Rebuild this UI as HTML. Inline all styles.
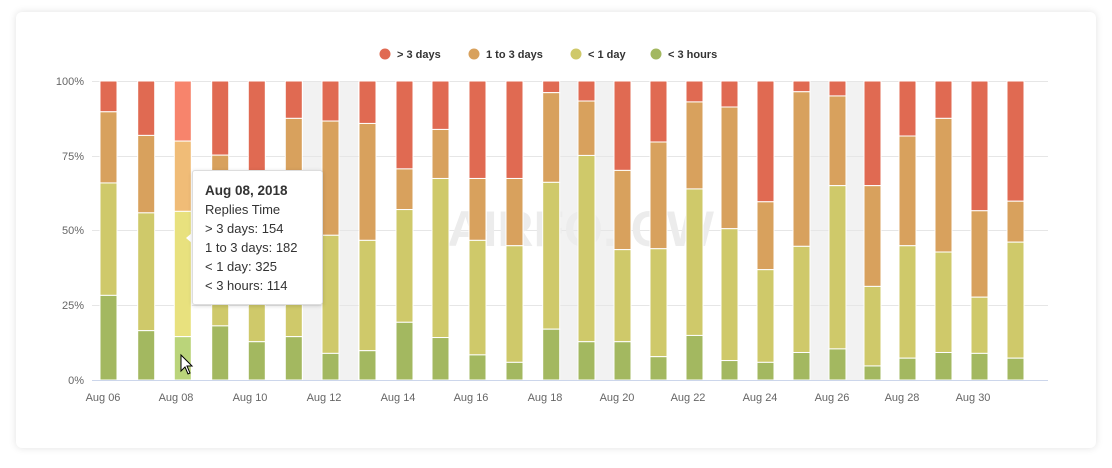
<!DOCTYPE html>
<html><head><meta charset="utf-8"><style>
html,body{margin:0;padding:0;background:#fff;width:1112px;height:468px;overflow:hidden;font-family:"Liberation Sans","DejaVu Sans",sans-serif;}
.card{position:absolute;left:16px;top:12px;width:1080px;height:436px;background:#fff;border-radius:6px;box-shadow:0 0 8px rgba(0,0,0,0.12);}
svg{position:absolute;left:0;top:0;}
.tip{position:absolute;left:192px;top:170px;width:131px;height:135px;background:#fff;border:1px solid #ddd;border-radius:3px;box-shadow:0 1px 4px rgba(0,0,0,0.15);font-size:13px;color:#333;box-sizing:border-box;padding:10px 0 0 12px;line-height:19px;}
.tip b{font-size:13.5px;}
.arrow{position:absolute;left:186px;top:232px;width:0;height:0;border-top:6px solid transparent;border-bottom:6px solid transparent;border-right:7px solid #fff;}
</style></head><body>
<div class="card"></div>
<svg width="1112" height="468" id="s" font-family="Liberation Sans, DejaVu Sans, sans-serif">
<g id="bands"></g>
<g stroke="#e6e6e6" stroke-width="1">
<line x1="92" y1="81.5" x2="1048" y2="81.5"/>
<line x1="92" y1="156.5" x2="1048" y2="156.5"/>
<line x1="92" y1="230.5" x2="1048" y2="230.5"/>
<line x1="92" y1="305.5" x2="1048" y2="305.5"/>
</g>
<text x="714" y="246" font-size="50" fill="#ececec" text-anchor="end" font-weight="bold">AIRFO.ICW</text>
<g id="bars"></g>
<line x1="92" y1="380.5" x2="1048" y2="380.5" stroke="#ccd6eb"/>
<g font-size="11" fill="#666" text-anchor="end">
<text x="84" y="85">100%</text><text x="84" y="160">75%</text><text x="84" y="234">50%</text><text x="84" y="309">25%</text><text x="84" y="384">0%</text>
</g>
<g font-size="11" fill="#666" text-anchor="middle">
<text x="103" y="401">Aug 06</text><text x="176" y="401">Aug 08</text><text x="250" y="401">Aug 10</text>
<text x="324" y="401">Aug 12</text><text x="398" y="401">Aug 14</text><text x="471" y="401">Aug 16</text>
<text x="545" y="401">Aug 18</text><text x="617" y="401">Aug 20</text><text x="688" y="401">Aug 22</text>
<text x="760" y="401">Aug 24</text><text x="832" y="401">Aug 26</text><text x="902" y="401">Aug 28</text>
<text x="973" y="401">Aug 30</text>
</g>
<g font-size="11" font-weight="bold" fill="#333">
<circle cx="385" cy="54" r="5.5" fill="#e06a52"/><text x="397" y="58">&gt; 3 days</text>
<circle cx="474" cy="54" r="5.5" fill="#d8a15d"/><text x="486" y="58">1 to 3 days</text>
<circle cx="576" cy="54" r="5.5" fill="#cfc96a"/><text x="588" y="58">&lt; 1 day</text>
<circle cx="656" cy="54" r="5.5" fill="#a3b860"/><text x="668" y="58">&lt; 3 hours</text>
</g>
<path d="M181 355 L181 371 L185 367 L188 374 L190 373 L187 366 L192 366 Z" fill="#fff" stroke="#000" stroke-width="1"/>
</svg>
<div class="arrow"></div>
<div class="tip"><b>Aug 08, 2018</b><br>Replies Time<br>&gt; 3 days: 154<br>1 to 3 days: 182<br>&lt; 1 day: 325<br>&lt; 3 hours: 114</div>
<script>
var L=[100,137.7,174.3,211.7,248.3,285.3,322,359,396,432,469,506,542.7,578,614,650,686,721,757,793,829,864,899,935,971,1007];
var D=[[89.7,65.9,28.3],[81.8,55.9,16.5],[79.9,56.4,14.5],[75.2,50,18.1],[68,40,12.8],[87.5,48.5,14.5],[86.6,48.4,8.9],[85.8,46.7,9.8],[70.6,57,19.3],[83.8,67.4,14.2],[67.4,46.7,8.4],[67.4,44.9,5.9],[96.1,66.1,17],[93.3,75.1,12.8],[70.1,43.6,12.8],[79.6,43.9,7.8],[93,63.9,14.9],[91.3,50.6,6.5],[59.6,36.9,5.9],[96.4,44.7,9.2],[95,65,10.4],[65,31.3,4.7],[81.6,44.9,7.3],[87.5,42.8,9.2],[56.6,27.7,8.9],[59.8,46.1,7.3]];
var ns="http://www.w3.org/2000/svg",bars=document.getElementById('bars'),bands=document.getElementById('bands');
function r(g,x,y,w,h,f,st){var e=document.createElementNS(ns,'rect');e.setAttribute('x',x);e.setAttribute('y',y);e.setAttribute('width',w);e.setAttribute('height',h);e.setAttribute('fill',f);if(st){e.setAttribute('stroke','#fff');e.setAttribute('stroke-width','1');}g.appendChild(e);}
[6,13,20].forEach(function(i){var c=L[i]+8.5;r(bands,c-27.5,81,55,299,'#f2f2f2');});
function Y(p){return 380-p*2.99;}
var C=['#e06a52','#d8a15d','#cfc96a','#a3b860'],H=['#f7846c','#f0bc77','#e8e17e','#bad47a'];
L.forEach(function(x,i){var d=D[i],b=[100].concat(d).concat([0]);var cs=i==2?H:C;
for(var k=0;k<4;k++){r(bars,x,Y(b[k]),17,Y(b[k+1])-Y(b[k]),cs[k],true);}});
</script>
</body></html>
